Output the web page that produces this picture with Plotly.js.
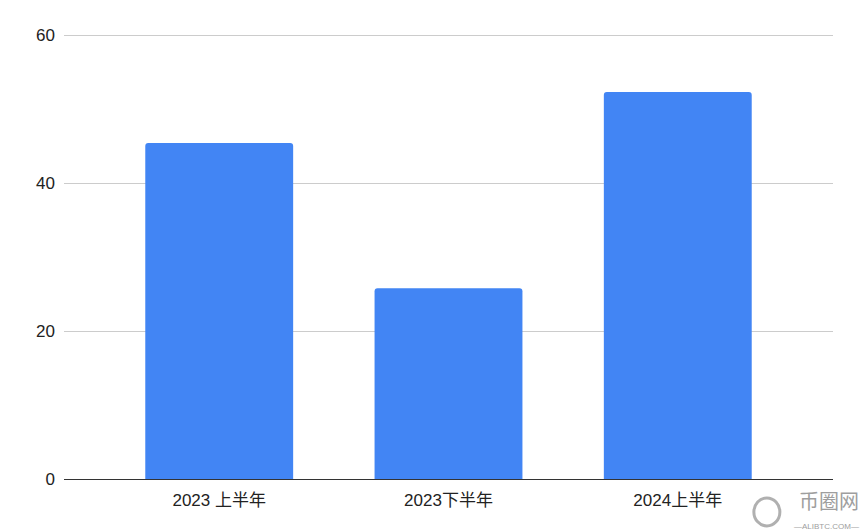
<!DOCTYPE html>
<html>
<head>
<meta charset="utf-8">
<script src="https://cdn.plot.ly/plotly-3.0.1.min.js"></script>
<style>html,body{margin:0;padding:0;background:#fff;}#chart{width:860px;height:532px;}</style>
</head>
<body>
<div id="chart"></div>
<script>
const categories = ["2023 上半年", "2023下半年", "2024上半年"];
const values = [45.4, 25.8, 52.3];
const yTicks = [0, 20, 40, 60];

const font = "'Liberation Sans', Arial, 'Noto Sans CJK SC', sans-serif";

const trace = {
  type: "bar",
  x: categories,
  y: values,
  width: 0.645,
  marker: { color: "#4285F4", cornerradius: 3 },
  hoverinfo: "x+y"
};

const layout = {
  width: 860,
  height: 532,
  margin: { l: 64, r: 27, t: 34, b: 53 },
  paper_bgcolor: "#ffffff",
  plot_bgcolor: "#ffffff",
  font: { family: font, size: 17, color: "#222" },
  showlegend: false,
  xaxis: {
    type: "category",
    range: [-0.677, 2.677],
    showline: true,
    linecolor: "#333",
    linewidth: 1,
    showgrid: false,
    zeroline: false,
    ticks: "",
    ticklabelstandoff: 6,
    tickfont: { family: font, size: 17, color: "#222" }
  },
  yaxis: {
    range: [0, 60.15],
    tickvals: yTicks,
    ticktext: yTicks.map(String),
    showgrid: true,
    gridcolor: "#cccccc",
    gridwidth: 1,
    zeroline: false,
    showline: false,
    ticks: "",
    ticklabelstandoff: 8,
    tickfont: { family: font, size: 17, color: "#222" }
  },
  shapes: [
    { type: "circle", xref: "paper", yref: "paper", xsizemode: "pixel", ysizemode: "pixel",
      xanchor: 0.914, yanchor: -0.074, x0: -13, x1: 13, y0: -14, y1: 14,
      line: { color: "#b0b0b0", width: 3 } }
  ],
  annotations: [
    { text: "币圈网", xref: "paper", yref: "paper", x: 1.035, y: -0.048, xanchor: "right", yanchor: "middle",
      showarrow: false, borderpad: 0, font: { family: "'Noto Sans CJK SC', sans-serif", size: 20, color: "#9e9e9e" } },
    { text: "—ALIBTC.COM—", xref: "paper", yref: "paper", x: 1.035, y: -0.107, xanchor: "right", yanchor: "middle",
      showarrow: false, borderpad: 0, font: { family: font, size: 8, color: "#9e9e9e" } }
  ]
};

Plotly.newPlot("chart", [trace], layout, { displayModeBar: false, staticPlot: true });
</script>
</body>
</html>
